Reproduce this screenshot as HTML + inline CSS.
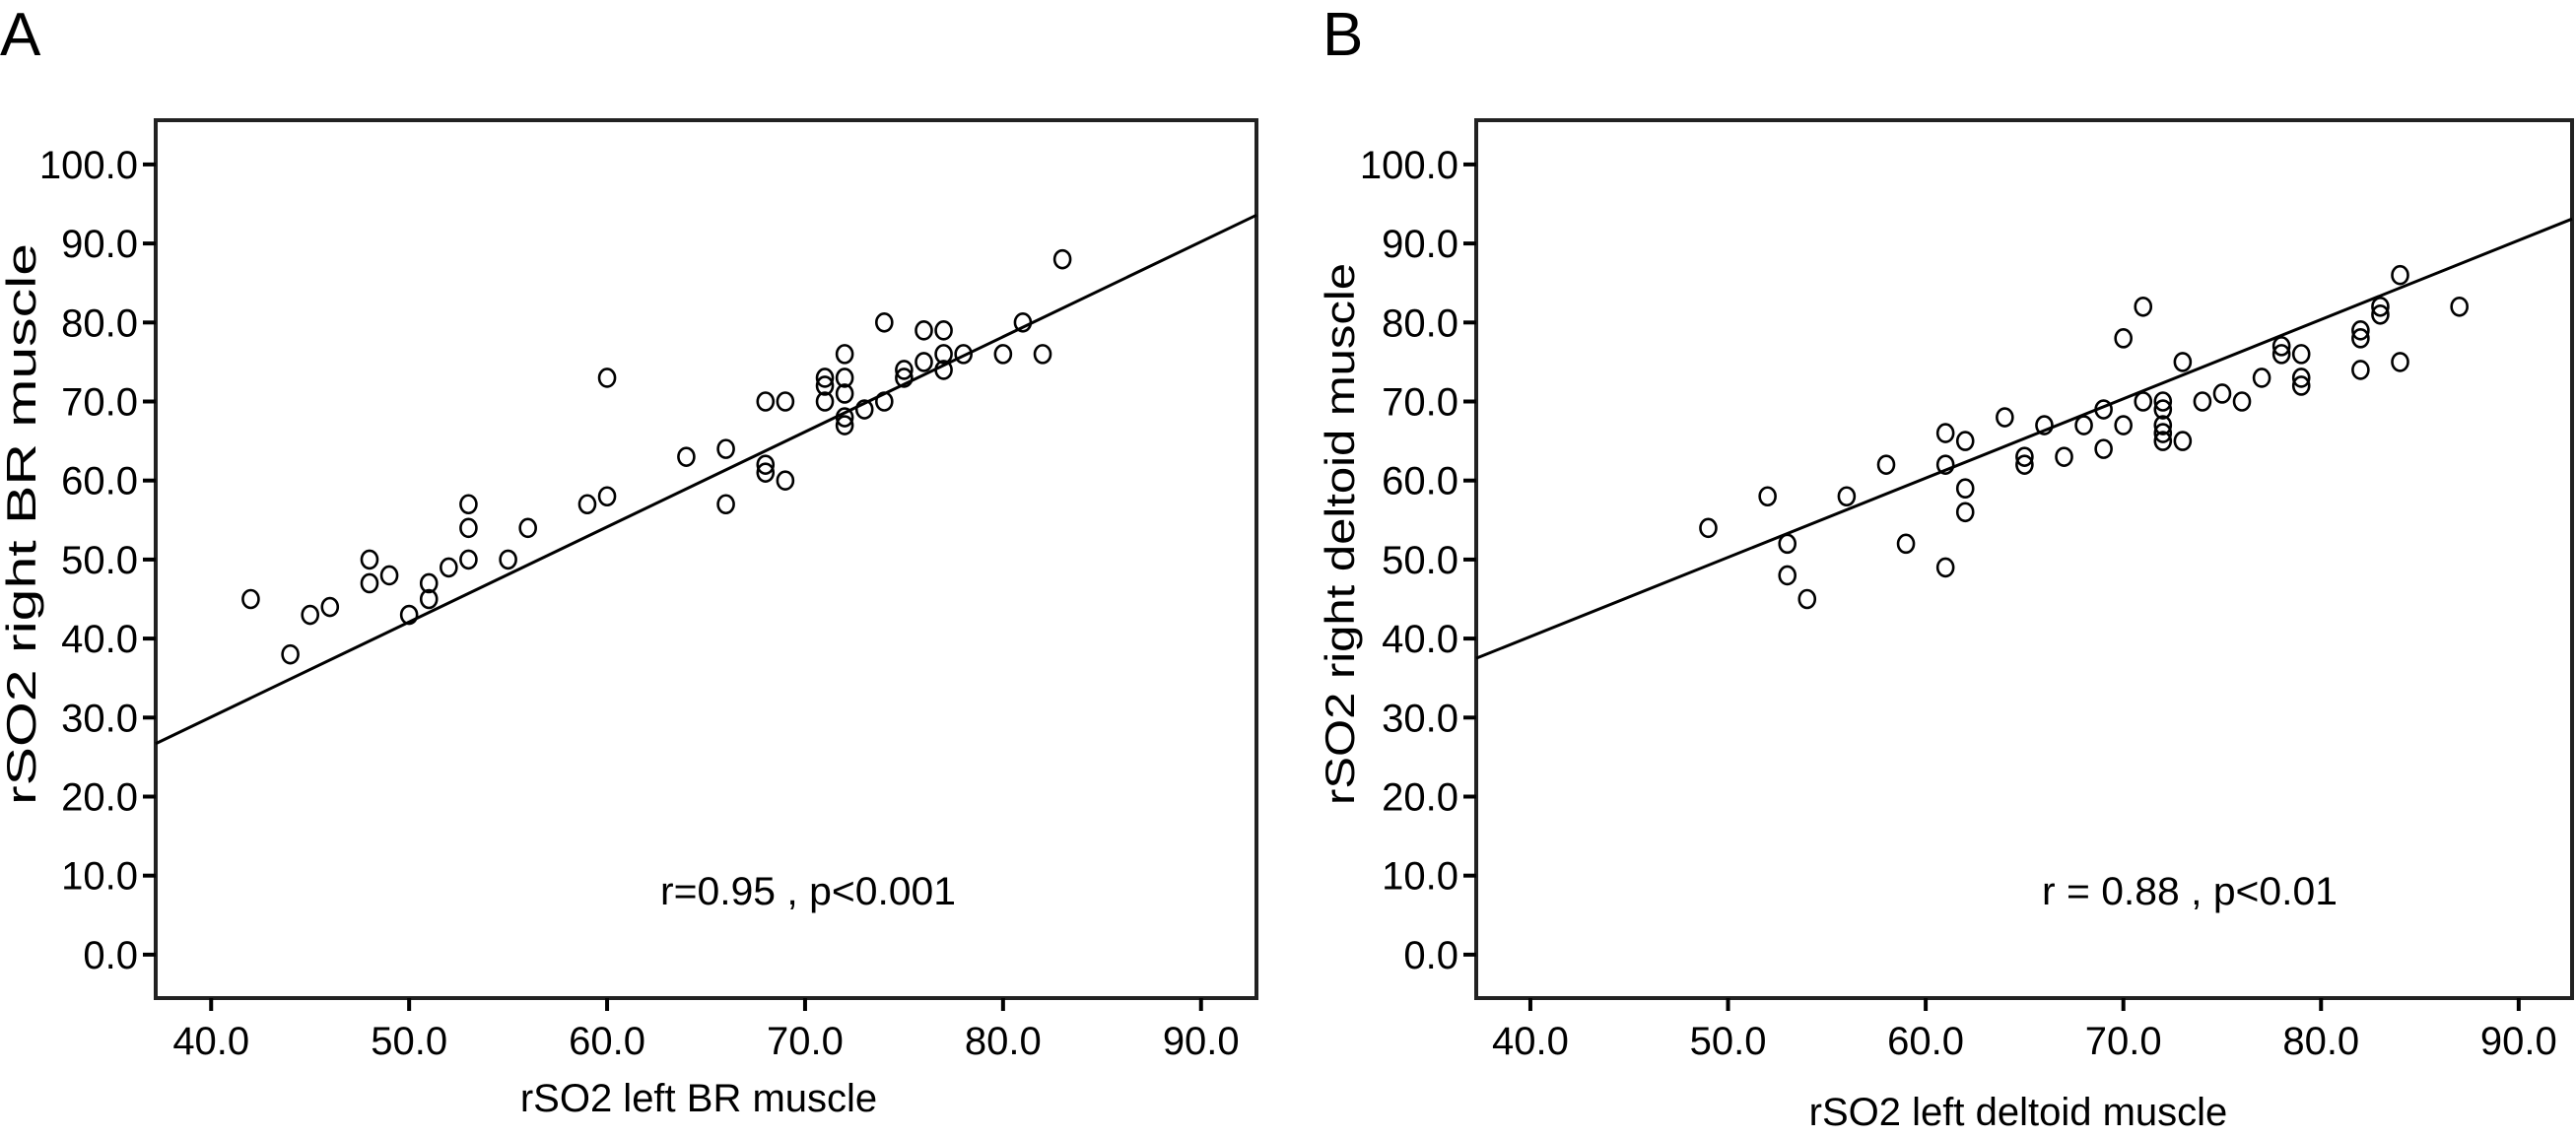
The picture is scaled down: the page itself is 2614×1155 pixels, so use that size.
<!DOCTYPE html>
<html><head><meta charset="utf-8"><style>
html,body{margin:0;padding:0;background:#fff;}
svg{display:block;font-family:"Liberation Sans",Arial,sans-serif;}
</style></head><body>
<svg id="chart" width="2614" height="1155" viewBox="0 0 2614 1155"></svg>
<script>
const xTicks=[40,50,60,70,80,90];
const yTicks=[0,10,20,30,40,50,60,70,80,90,100];
const aX=[42,44,45,46,48,48,49,50,51,51,52,53,53,53,55,56,59,60,60,64,66,66,68,68,68,69,69,71,71,71,72,72,72,72,72,73,74,74,75,75,76,76,77,77,77,78,80,81,82,83];
const aY=[45,38,43,44,50,47,48,43,47,45,49,57,54,50,50,54,57,58,73,63,64,57,70,62,61,70,60,73,72,70,76,73,71,68,67,69,80,70,74,73,79,75,79,76,74,76,76,80,76,88];
const bX=[49,52,53,53,54,56,58,59,61,61,61,62,62,62,64,65,65,66,67,68,69,69,70,70,71,71,72,72,72,72,72,73,73,74,75,76,77,78,78,79,79,79,82,82,82,83,83,84,84,87];
const bY=[54,58,52,48,45,58,62,52,66,62,49,65,59,56,68,63,62,67,63,67,69,64,78,67,82,70,70,69,67,66,65,75,65,70,71,70,73,77,76,76,73,72,79,78,74,82,81,86,75,82];
const aFit=[1.203,-18.05];
const bFit=[1.003,0.13];
const NS='http://www.w3.org/2000/svg';
const svg=document.getElementById('chart');
function mk(tag,attrs,parent){const e=document.createElementNS(NS,tag);for(const k in attrs)e.setAttribute(k,attrs[k]);(parent||svg).appendChild(e);return e;}
function panel(cfg){
  const g=mk('g',{});
  
  
  const L=cfg.left,R=cfg.right,T=122,B=1013;
  const xd=[cfg.x0,cfg.x1],yd=[-5.5,105.6];
  const sx=v=>L+(v-xd[0])/(xd[1]-xd[0])*(R-L);
  const sy=v=>B-(v-yd[0])/(yd[1]-yd[0])*(B-T);
  const box=mk('rect',{x:L,y:T,width:R-L,height:B-T,fill:'none',stroke:'#222','stroke-width':4},g);
  
  
  yTicks.forEach(t=>{
    const y=sy(t);
    const tk=mk('line',{x1:L-13,x2:L,y1:y,y2:y,stroke:'#000','stroke-width':4},g);
    
    
    const tx=mk('text',{x:L-18,y:y+14,'font-size':40,'text-anchor':'end'},g);
    tx.textContent=t.toFixed(1);
    
    
  });
  xTicks.forEach(t=>{
    const x=sx(t);
    const tk=mk('line',{x1:x,x2:x,y1:B,y2:B+13,stroke:'#000','stroke-width':4},g);
    
    
    const tx=mk('text',{x:x,y:1070,'font-size':40,'text-anchor':'middle'},g);
    tx.textContent=t.toFixed(1);
    
    
  });
  const ln=mk('line',{x1:sx(xd[0]),y1:sy(cfg.fit[0]*xd[0]+cfg.fit[1]),x2:sx(xd[1]),y2:sy(cfg.fit[0]*xd[1]+cfg.fit[1]),stroke:'#000','stroke-width':3},g);
  
  
  cfg.xs.forEach((v,i)=>{
    const c=mk('ellipse',{cx:sx(v),cy:sy(cfg.ys[i]),rx:8,ry:9,fill:'none',stroke:'#000','stroke-width':2.6},g);
    
    
  });
  const st=mk('text',{x:cfg.statX,y:918,'font-size':40,textLength:300,lengthAdjust:'spacingAndGlyphs'},g);
  st.textContent=cfg.stat;
  
  
  const xt=mk('text',{x:cfg.xtX,y:cfg.xtY,'font-size':40,'text-anchor':'middle'},g);
  xt.textContent=cfg.xtitle;
  
  
  const yt=mk('text',{x:-cfg.ytLen/2,y:0,'font-size':42,textLength:cfg.ytLen,lengthAdjust:'spacingAndGlyphs',transform:'translate('+cfg.ytX+','+cfg.ytY+') rotate(-90)'},g);
  yt.textContent=cfg.ytitle;
  
  
  const lb=mk('text',{x:cfg.lblX,y:56,'font-size':62},g);
  lb.textContent=cfg.label;
  
  
}
panel({id:'panel-a',left:158,right:1275,x0:37.2,x1:92.8,xs:aX,ys:aY,fit:aFit,stat:'r=0.95 , p<0.001',statX:670,xtitle:'rSO2 left BR muscle',xtX:709,xtY:1128,ytitle:'rSO2 right BR muscle',ytX:36,ytY:532,ytLen:570,label:'A',lblX:0});
panel({id:'panel-b',left:1498,right:2610,x0:37.26,x1:92.7,xs:bX,ys:bY,fit:bFit,stat:'r = 0.88 , p<0.01',statX:2072,xtitle:'rSO2 left deltoid muscle',xtX:2048,xtY:1142,ytitle:'rSO2 right deltoid muscle',ytX:1374,ytY:542,ytLen:550,label:'B',lblX:1342});
</script>
</body></html>
